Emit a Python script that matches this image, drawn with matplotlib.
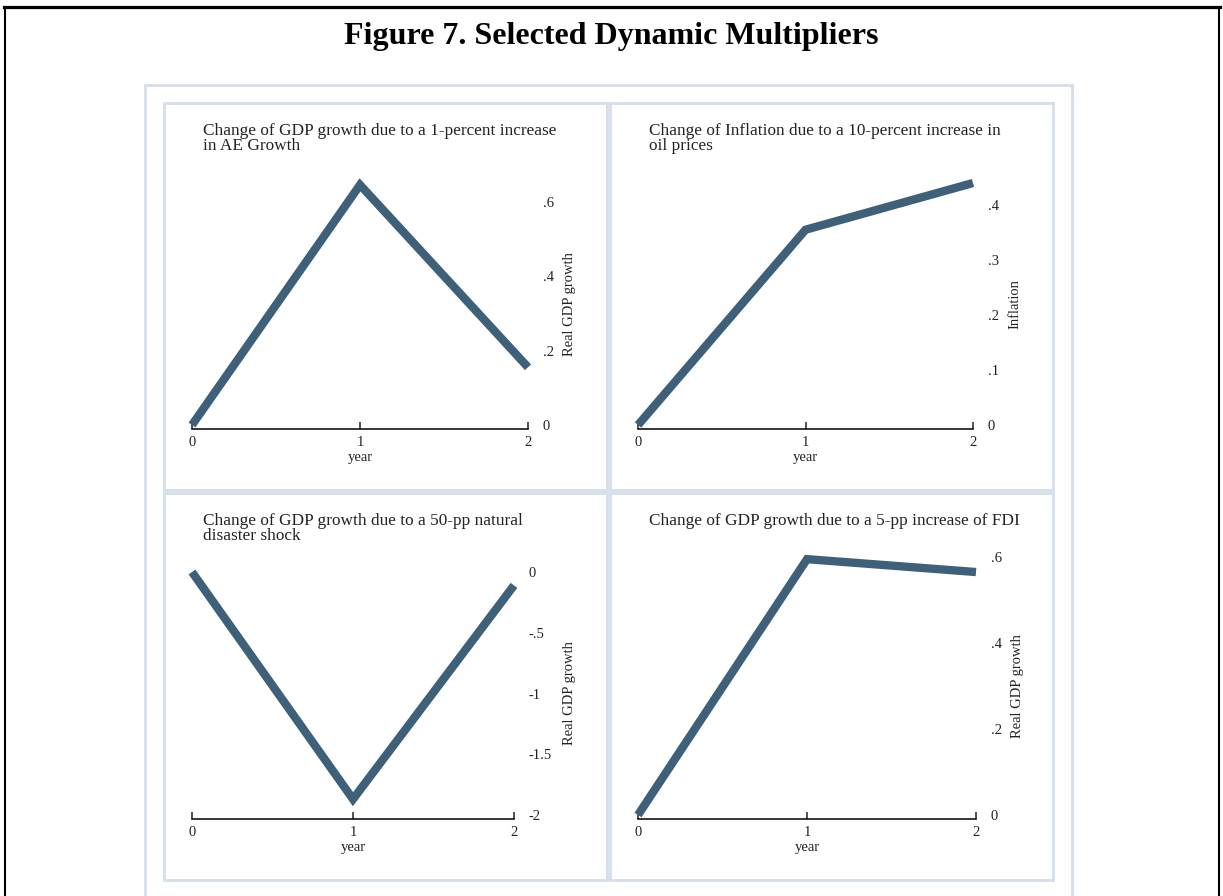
import matplotlib
matplotlib.use("Agg")
import matplotlib.pyplot as plt
from matplotlib.patches import Rectangle
from matplotlib.lines import Line2D

# Data (dynamic multipliers at year 0, 1, 2)
years = [0, 1, 2]
gdp_ae = [0.0, 0.645, 0.155]
infl_oil = [0.0, 0.355, 0.44]
gdp_disaster = [0.0, -1.87, -0.11]
gdp_fdi = [0.0, 0.595, 0.565]

titles = [
    "Change of GDP growth due to a 1-percent increase\nin AE Growth",
    "Change of Inflation due to a 10-percent increase in\noil prices",
    "Change of GDP growth due to a 50-pp natural\ndisaster shock",
    "Change of GDP growth due to a 5-pp increase of FDI",
]
ylabels = ["Real GDP growth", "Inflation", "Real GDP growth", "Real GDP growth"]
series = [gdp_ae, infl_oil, gdp_disaster, gdp_fdi]
yticks = [[0, 0.2, 0.4, 0.6], [0, 0.1, 0.2, 0.3, 0.4],
          [-2, -1.5, -1, -0.5, 0], [0, 0.2, 0.4, 0.6]]
yticklabels = [["0", ".2", ".4", ".6"], ["0", ".1", ".2", ".3", ".4"],
               ["-2", "-1.5", "-1", "-.5", "0"], ["0", ".2", ".4", ".6"]]
ylims = [(0, 0.65), (0, 0.44), (-2, 0), (0, 0.6)]

W, H = 1223, 896
LINE = "#3e6079"
BOX = "#d5dfea"
plt.rcParams["font.family"] = ["Liberation Serif", "DejaVu Serif"]

fig = plt.figure(figsize=(W / 100, H / 100), dpi=100)


def fx(px):
    return px / W


def fy(py):
    return 1 - py / H


# outer black frame
fig.add_artist(Line2D([fx(4), fx(1220)], [fy(7.5), fy(7.5)], color="black", lw=2.3))
fig.add_artist(Line2D([fx(5), fx(5)], [fy(7), fy(896)], color="black", lw=1.5))
fig.add_artist(Line2D([fx(1219), fx(1219)], [fy(7), fy(896)], color="black", lw=1.5))

# light grey-blue boxes
fig.add_artist(Rectangle((fx(145), fy(905)), fx(1072) - fx(145), fy(85) - fy(905),
                         fill=False, ec=BOX, lw=2, transform=fig.transFigure))
panel_boxes = [(164, 103, 607, 490), (610, 103, 1053, 490),
               (164, 493, 607, 880), (610, 493, 1053, 880)]
for x0, y0, x1, y1 in panel_boxes:
    fig.add_artist(Rectangle((fx(x0), fy(y1)), fx(x1) - fx(x0), fy(y0) - fy(y1),
                             fill=False, ec=BOX, lw=2, transform=fig.transFigure))

fig.text(0.5, fy(44), "Figure 7. Selected Dynamic Multipliers", ha="center",
         va="baseline", fontsize=23, fontweight="bold")

# plot regions in pixels: left, top, right, bottom
regions = [(192, 183, 528, 425), (638, 183, 973, 425),
           (192, 572, 514, 815), (638, 557, 976, 815)]
title_pos = [(203, 123), (649, 123), (203, 513), (649, 513)]
ylabel_x = [569, 1015, 569, 1017]

for i in range(4):
    l, t, r, b = regions[i]
    ax = fig.add_axes([fx(l), fy(b), fx(r) - fx(l), fy(t) - fy(b)])
    ax.plot(years, series[i], color=LINE, lw=6, clip_on=False,
            solid_joinstyle="miter", solid_capstyle="butt")
    ax.set_xlim(0, 2)
    ax.set_ylim(*ylims[i])
    ax.set_xticks([0, 1, 2])
    ax.set_xticklabels(["0", "1", "2"])
    ax.set_yticks(yticks[i])
    ax.set_yticklabels(yticklabels[i])
    for s in ["top", "left", "right"]:
        ax.spines[s].set_visible(False)
    ax.spines["bottom"].set_position(("outward", 3))
    ax.spines["bottom"].set_linewidth(1.1)
    ax.patch.set_alpha(0)
    ax.yaxis.tick_right()
    ax.tick_params(axis="x", direction="in", length=5, width=1.1, pad=5,
                   labelsize=10.5, colors="#222222")
    ax.tick_params(axis="y", length=0, pad=10.5, labelsize=10.5, colors="#222222")
    ax.set_xlabel("year", fontsize=10.5, labelpad=1, color="#222222")
    ax.set_ylabel(ylabels[i], fontsize=10.5, rotation=90, ha="center",
                  va="center", color="#222222")
    ax.yaxis.set_label_coords(fx(ylabel_x[i]), fy((t + b) / 2),
                              transform=fig.transFigure)
    tx, ty = title_pos[i]
    fig.text(fx(tx), fy(ty), titles[i], ha="left", va="top", fontsize=12.4,
             linespacing=0.88, color="#222222")

fig.savefig("out.png", dpi=100)
